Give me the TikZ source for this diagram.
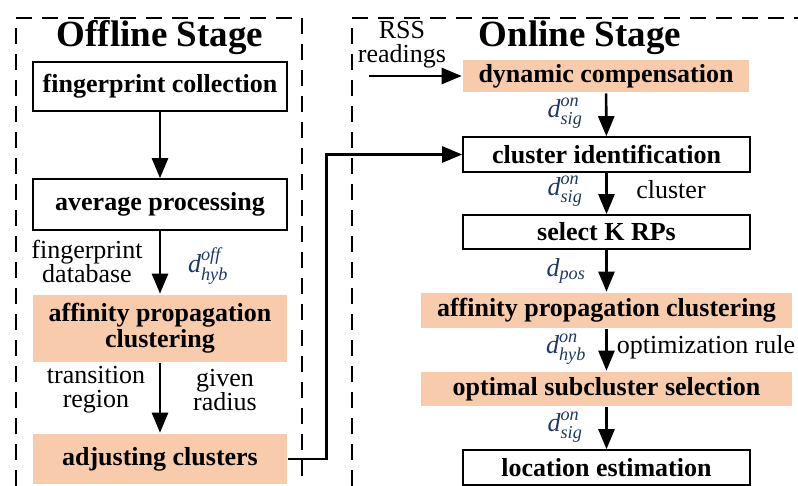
\documentclass[tikz,border=0pt]{standalone}
\usepackage{amsmath}
\usepackage{fontspec}
\setmainfont{LiberationSerif}[Extension=.ttf,UprightFont=*-Regular,BoldFont=*-Bold,ItalicFont=*-Italic,BoldItalicFont=*-BoldItalic]
\usetikzlibrary{arrows.meta}
\definecolor{stagefill}{RGB}{248,203,173}
\definecolor{symblue}{RGB}{31,56,100}
\newcommand{\dsym}[2]{\textcolor{symblue}{$\textit{d}^{\textit{#1}}_{\textit{#2}}$}}

\begin{document}
\begin{tikzpicture}
  [x=1pt,y=-1pt,line width=2.6pt,
   every node/.style={font=\fontsize{26}{24}\selectfont,inner sep=0pt},
   plain/.style={draw,fill=white,line width=1.6pt,font=\fontsize{26}{24}\selectfont\bfseries},
   shaded/.style={fill=stagefill,font=\fontsize{26}{26}\selectfont\bfseries,align=center},
   frame/.style={dash pattern=on 16pt off 10pt,line width=2.4pt},
   flow/.style={-{Triangle[width=16pt,length=20pt]}}]
  \useasboundingbox (0,0) rectangle (798,486);

  % dashed stage frames
  \draw[frame] (16,486) -- (16,18) -- (302,18) -- (302,486);
  \draw[frame] (352,486) -- (352,18) -- (798,18);
  \node[font=\fontsize{37}{37}\selectfont\bfseries] (offt) at (160,38) {Offline Stage};
  \node[font=\fontsize{37}{37}\selectfont\bfseries] (ont) at (580,38) {Online Stage};

  % offline stage
  \node[plain,minimum width=254pt,minimum height=49pt] (coll) at (160,86.5) {fingerprint collection};
  \node[plain,minimum width=254pt,minimum height=51pt] (avg) at (160,204.5) {average processing};
  \node[shaded,minimum width=254pt,minimum height=67pt] (apoff) at (160,328.5) {affinity propagation\\clustering};
  \node[shaded,minimum width=254pt,minimum height=50pt] (adj) at (160,459) {adjusting clusters};

  \node[align=center] (fdb) at (87,261) {fingerprint\\database};
  \node (doff) at (208,266) {\dsym{off}{hyb}};
  \node[align=center] (trans) at (96,390) {transition\\region};
  \node[align=center] (rad) at (225,390) {given\\radius};

  % online stage
  \node[shaded,minimum width=286pt,minimum height=32pt] (dyn) at (606,76) {dynamic compensation};
  \node[plain,minimum width=287pt,minimum height=35pt] (cid) at (606.5,154.5) {cluster identification};
  \node[plain,minimum width=287pt,minimum height=34pt] (krp) at (606.5,232) {select K RPs};
  \node[shaded,minimum width=371pt,minimum height=35pt] (apon) at (606.5,310.5) {affinity propagation clustering};
  \node[shaded,minimum width=371pt,minimum height=34pt] (opt) at (606.5,389) {optimal subcluster selection};
  \node[plain,minimum width=287pt,minimum height=35pt] (loc) at (606.5,467.5) {location estimation};

  \node[align=center] (rss) at (402,45) {RSS\\readings};
  \coordinate (rssin) at (369,76);
  \node (d1) at (565,113) {\dsym{on}{sig}};
  \node (d2) at (565,191) {\dsym{on}{sig}};
  \node (clab) at (671,190) {cluster};
  \node (d3) at (566,271) {\textcolor{symblue}{$\textit{d}_{\textit{pos}}$}};
  \node (d4) at (566,349) {\dsym{on}{hyb}};
  \node (olab) at (706,347) {optimization rule};
  \node (d5) at (565,427) {\dsym{on}{sig}};

  \foreach \from/\to in {coll/avg,avg/apoff,apoff/adj,dyn/cid,cid/krp,krp/apon,apon/opt,opt/loc}
    \draw[flow] (\from) -- (\to);

  \draw[flow] (rssin) -- (dyn.west);
  \draw[flow] (adj.east) -- ++(38,0) |- (cid.west);

\end{tikzpicture}
\end{document}
